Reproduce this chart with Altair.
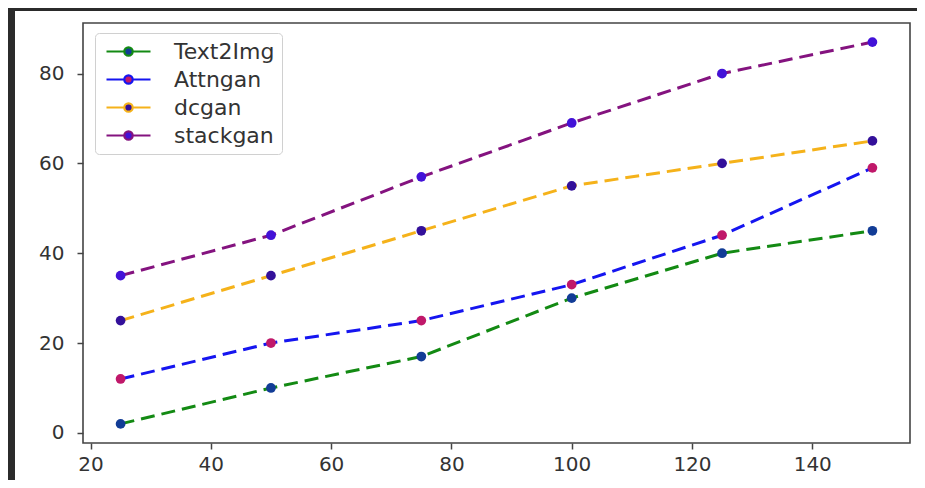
import altair as alt
import pandas as pd

x_vals = [25, 50, 75, 100, 125, 150]
series_names = ["Text2Img", "Attngan", "dcgan", "stackgan"]
text2img = [2, 10, 17, 30, 40, 45]
attngan = [12, 20, 25, 33, 44, 59]
dcgan = [25, 35, 45, 55, 60, 65]
stackgan = [35, 44, 57, 69, 80, 87]
line_colors = ["#138a13", "#1515f0", "#f5b21a", "#84137f"]
marker_colors = ["#123c96", "#c0186a", "#33109a", "#4212d8"]
x_ticks = [20, 40, 60, 80, 100, 120, 140]
y_ticks = [0, 20, 40, 60, 80]

rows = []
for name, vals in zip(series_names, [text2img, attngan, dcgan, stackgan]):
    for xv, yv in zip(x_vals, vals):
        rows.append({"series": name, "x": xv, "y": yv})
df = pd.DataFrame(rows)

W, H = 827, 420

legend = alt.Legend(
    title=None,
    orient="none",
    legendX=12,
    legendY=10,
    symbolType="M-2.2,0L-0.5,0M0.5,0L2.2,0M0.42,0A0.42,0.42,0,1,1,-0.42,0A0.42,0.42,0,1,1,0.42,0Z",
    symbolSize=400,
    symbolStrokeWidth=2.2,
    symbolOffset=15,
    labelFont="DejaVu Sans",
    labelFontSize=22,
    labelColor="#333333",
    labelOffset=34,
    rowPadding=5,
    padding=7,
    fillColor="white",
    strokeColor="#d0d0d0",
    cornerRadius=4,
)

xs = alt.X("x:Q", scale=alt.Scale(domain=[18.75, 156.25], nice=False, zero=False),
           axis=alt.Axis(values=x_ticks, title=None, labelPadding=5))
ys = alt.Y("y:Q", scale=alt.Scale(domain=[-2.25, 91.25], nice=False, zero=False),
           axis=alt.Axis(values=y_ticks, title=None, labelPadding=13))

lines = alt.Chart(df).mark_line(strokeDash=[14, 7], strokeWidth=3).encode(
    x=xs, y=ys,
    stroke=alt.Stroke("series:N", scale=alt.Scale(domain=series_names, range=line_colors), legend=legend),
    detail="series:N",
)
points = alt.Chart(df).mark_circle(size=95, opacity=1).encode(
    x=xs, y=ys,
    fill=alt.Fill("series:N", scale=alt.Scale(domain=series_names, range=marker_colors), legend=legend),
)

frame_top = alt.Chart(df).mark_rule(color="#2b2b2b", strokeWidth=2.5).encode(
    x=alt.value(-75), x2=alt.value(W + 7), y=alt.value(-13.8))
frame_left = alt.Chart(df).mark_rule(color="#2b2b2b", strokeWidth=7).encode(
    x=alt.value(-71.5), y=alt.value(-15), y2=alt.value(H + 37))

chart = alt.layer(lines, points, frame_top, frame_left).properties(
    width=W, height=H,
    autosize=alt.AutoSizeParams(type="none"),
    padding={"left": 75, "top": 15, "right": 7, "bottom": 37},
    background="white",
).configure_view(
    stroke="#444444", strokeWidth=1.6
).configure_axis(
    domain=False, grid=False, ticks=True, tickColor="#444444", tickWidth=1.5, tickSize=6,
    labelFont="DejaVu Sans", labelFontSize=20, labelColor="#333333",
)

chart.save("out.html", embed_options={"renderer": "svg", "actions": False})
